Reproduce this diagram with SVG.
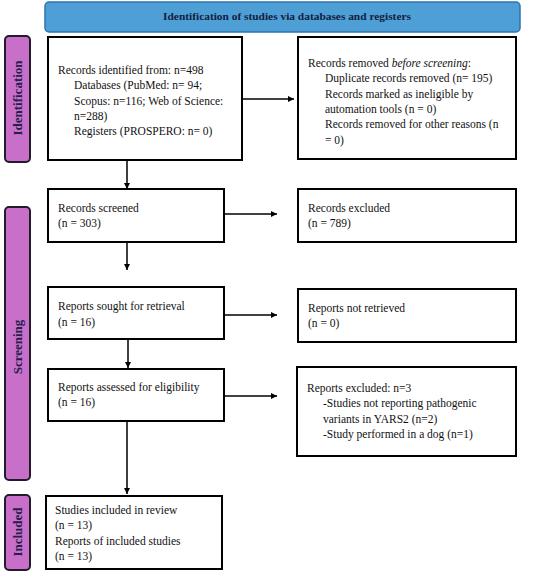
<svg xmlns="http://www.w3.org/2000/svg" width="550" height="574" viewBox="0 0 550 574">
<defs>
<marker id="ah" viewBox="0 0 10 10" refX="10" refY="5" markerWidth="6" markerHeight="6" markerUnits="userSpaceOnUse" orient="auto">
<path d="M0,0 L10,5 L0,10 z" fill="#000"/>
</marker>
<style>
.box{fill:#fff;stroke:#000;stroke-width:2}
.side{fill:#c86fca;stroke:#231a2b;stroke-width:2}
.sidet{font-family:"Liberation Serif",serif;font-weight:bold;font-size:13px;fill:#24204a;text-anchor:middle}
.t{font-family:"Liberation Serif",serif;font-size:11.5px;fill:#111}
.conn{stroke:#000;stroke-width:1.5;fill:none;marker-end:url(#ah)}
</style>
</defs>
<rect width="550" height="574" fill="#fff"/>
<g id="header">
<rect x="45" y="2" width="475" height="30" rx="4" fill="#4d9fd6" stroke="#2e74b0" stroke-width="1.5"/>
<text x="287" y="19.5" text-anchor="middle" font-family="Liberation Serif,serif" font-weight="bold" font-size="11.4px" fill="#13203f">Identification of studies via databases and registers</text>
</g>
<g id="side-identification">
<rect class="side" x="5" y="36" width="25" height="126" rx="4"/>
<text class="sidet" transform="translate(22,98) rotate(-90)">Identification</text>
</g>
<g id="side-screening">
<rect class="side" x="5" y="207" width="25" height="273" rx="4"/>
<text class="sidet" transform="translate(22,347) rotate(-90)">Screening</text>
</g>
<g id="side-included">
<rect class="side" x="5" y="495" width="25" height="75" rx="4"/>
<text class="sidet" transform="translate(22,532) rotate(-90)">Included</text>
</g>
<g id="records-identified">
<rect class="box" x="48" y="37" width="194" height="123"/>
<text class="t" x="58" y="74">Records identified from: n=498</text>
<text class="t" x="74" y="89">Databases (PubMed: n= 94;</text>
<text class="t" x="74" y="104.5">Scopus: n=116; Web of Science:</text>
<text class="t" x="74" y="120">n=288)</text>
<text class="t" x="74" y="135">Registers (PROSPERO: n= 0)</text>
</g>
<g id="records-removed">
<rect class="box" x="298" y="37" width="218" height="122"/>
<text class="t" x="308" y="67">Records removed <tspan font-style="italic">before screening</tspan>:</text>
<text class="t" x="325" y="82">Duplicate records removed (n= 195)</text>
<text class="t" x="325" y="97.5">Records marked as ineligible by</text>
<text class="t" x="325" y="113">automation tools (n = 0)</text>
<text class="t" x="325" y="128">Records removed for other reasons (n</text>
<text class="t" x="325" y="143.5">= 0)</text>
</g>
<g id="records-screened">
<rect class="box" x="48" y="189" width="176" height="53"/>
<text class="t" x="58" y="212">Records screened</text>
<text class="t" x="58" y="227">(n = 303)</text>
</g>
<g id="records-excluded">
<rect class="box" x="298" y="189" width="218" height="53"/>
<text class="t" x="308" y="212">Records excluded</text>
<text class="t" x="308" y="227">(n = 789)</text>
</g>
<g id="reports-sought">
<rect class="box" x="48" y="287" width="176" height="52"/>
<text class="t" x="58" y="310">Reports sought for retrieval</text>
<text class="t" x="58" y="326">(n = 16)</text>
</g>
<g id="reports-not-retrieved">
<rect class="box" x="298" y="289" width="218" height="53"/>
<text class="t" x="308" y="312">Reports not retrieved</text>
<text class="t" x="308" y="327">(n = 0)</text>
</g>
<g id="reports-assessed">
<rect class="box" x="48" y="369" width="176" height="52"/>
<text class="t" x="58" y="391">Reports assessed for eligibility</text>
<text class="t" x="58" y="406">(n = 16)</text>
</g>
<g id="reports-excluded">
<rect class="box" x="297" y="367" width="219" height="89"/>
<text class="t" x="307" y="392">Reports excluded: n=3</text>
<text class="t" x="323" y="407">-Studies not reporting pathogenic</text>
<text class="t" x="323" y="423">variants in YARS2 (n=2)</text>
<text class="t" x="323" y="438">-Study performed in a dog (n=1)</text>
</g>
<g id="studies-included">
<rect class="box" x="46" y="496" width="176" height="73"/>
<text class="t" x="55" y="514">Studies included in review</text>
<text class="t" x="55" y="529">(n = 13)</text>
<text class="t" x="55" y="544.5">Reports of included studies</text>
<text class="t" x="55" y="560">(n = 13)</text>
</g>
<g id="connectors">
<line class="conn" x1="242" y1="99" x2="294" y2="99"/>
<line class="conn" x1="127" y1="160" x2="127" y2="189"/>
<line class="conn" x1="224" y1="214" x2="277" y2="214"/>
<line class="conn" x1="127" y1="242" x2="127" y2="270"/>
<line class="conn" x1="224" y1="315" x2="277" y2="315"/>
<line class="conn" x1="128" y1="339" x2="128" y2="368"/>
<line class="conn" x1="224" y1="396" x2="277" y2="396"/>
<line class="conn" x1="127" y1="421" x2="127" y2="494"/>
</g>
</svg>
